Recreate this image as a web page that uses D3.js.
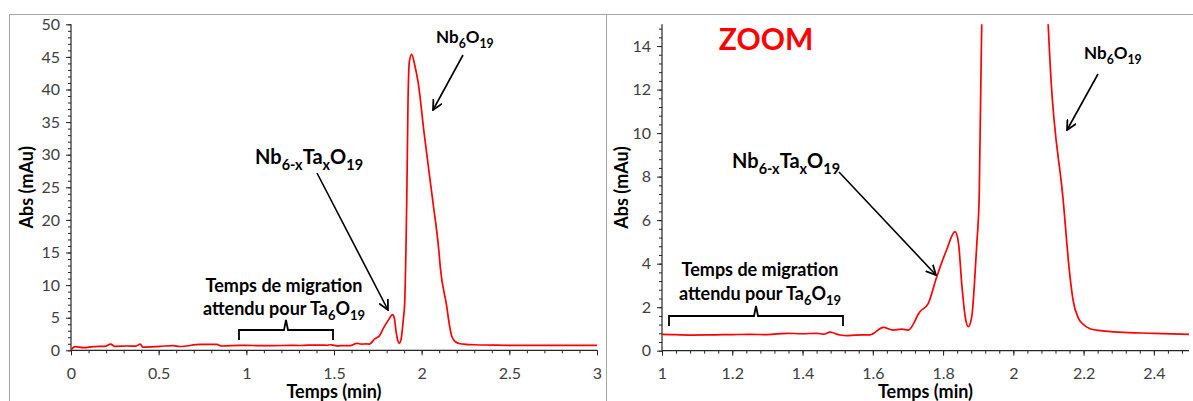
<!DOCTYPE html>
<html>
<head>
<meta charset="utf-8">
<script src="https://cdn.jsdelivr.net/npm/d3@7"></script>
<style>
  html, body { margin: 0; padding: 0; background: #fff; }
  svg { display: block; font-family: Lato, "Open Sans", sans-serif; }
</style>
</head>
<body>
<svg id="chart" width="1193" height="401"></svg>
<script>
// ---- data ----
const time = [0, 0.005, 0.023, 0.07, 0.127, 0.2, 0.226, 0.25, 0.318, 0.37, 0.394, 0.41,
  0.508, 0.584, 0.62, 0.736, 0.831, 0.86, 0.964, 1.0, 1.078, 1.15, 1.2, 1.25, 1.3, 1.355,
  1.4, 1.44, 1.46, 1.478, 1.507, 1.526, 1.55, 1.592, 1.63, 1.658, 1.682, 1.701, 1.734,
  1.758, 1.782, 1.81, 1.834, 1.844, 1.853, 1.863, 1.872, 1.882, 1.889, 1.896, 1.903,
  1.91, 1.915, 1.922, 1.93, 1.943, 1.96, 1.981, 2.014, 2.063, 2.099, 2.106, 2.142, 2.16,
  2.17, 2.185, 2.195, 2.22, 2.25, 2.3, 2.4, 2.5, 2.7, 3.0];
const absorbance = [0.05, 0.2, 0.55, 0.4, 0.55, 0.65, 0.95, 0.6, 0.66, 0.65, 0.95, 0.5,
  0.61, 0.72, 0.58, 0.9, 0.92, 0.66, 0.75, 0.75, 0.72, 0.73, 0.74, 0.75, 0.74, 0.8,
  0.78, 0.8, 0.76, 0.85, 0.72, 0.69, 0.72, 0.73, 1.07, 0.95, 0.99, 0.95, 1.79,
  2.18, 3.40, 4.63, 5.47, 4.93, 3.10, 1.56, 1.10, 1.6, 3.0, 4.9, 7.2,
  15, 23, 38, 44.3, 45.4, 43.8, 40.9, 33.3, 23, 15, 12.8, 6.9, 3.6,
  2.32, 1.5, 1.27, 1.0, 0.92, 0.85, 0.8, 0.75, 0.75, 0.75];

const leftXTicks = [0, 0.5, 1, 1.5, 2, 2.5, 3];
const leftYTicks = [0, 5, 10, 15, 20, 25, 30, 35, 40, 45, 50];
const rightXTicks = [1, 1.2, 1.4, 1.6, 1.8, 2, 2.2, 2.4];
const rightYTicks = [0, 2, 4, 6, 8, 10, 12, 14];

const xTitle = "Temps (min)";
const yTitle = "Abs (mAu)";

const data = time.map((t, i) => ({ t, a: absorbance[i] }));

const svg = d3.select("#chart");
const defs = svg.append("defs");
defs.append("marker")
  .attr("id", "arrow").attr("markerUnits", "userSpaceOnUse")
  .attr("viewBox", "0 0 10 10").attr("refX", 9).attr("refY", 5)
  .attr("markerWidth", 11).attr("markerHeight", 11).attr("orient", "auto")
  .append("path").attr("d", "M0,0.5 L9,5 L0,9.5")
  .attr("fill", "none").attr("stroke", "#000").attr("stroke-width", 1.6);

// panel frames
svg.append("path").attr("d", "M9.5,401 L9.5,14.5 L1193,14.5 M606.5,14.5 L606.5,401")
  .attr("fill", "none").attr("stroke", "#a6a6a6").attr("stroke-width", 1);

function richText(g, x, y, anchor, size, parts, color) {
  const t = g.append("text").attr("x", x).attr("y", y)
    .attr("text-anchor", anchor).attr("font-weight", "bold")
    .attr("font-size", size).attr("fill", color || "#000");
  let shifted = false;
  parts.forEach(([s, sub]) => {
    const ts = t.append("tspan").text(s);
    if (sub && !shifted) { ts.attr("dy", size * 0.28).attr("font-size", size * 0.72); shifted = true; }
    else if (sub) { ts.attr("font-size", size * 0.72); }
    else if (!sub && shifted) { ts.attr("dy", -size * 0.28); shifted = false; }
  });
  return t;
}

function panel(cfg) {
  const g = svg.append("g");
  const x = d3.scaleLinear().domain(cfg.xDomain).range([cfg.x0, cfg.x1]);
  const y = d3.scaleLinear().domain(cfg.yDomain).range([cfg.y0, cfg.y1]);

  const clipId = "clip" + cfg.id;
  defs.append("clipPath").attr("id", clipId).append("rect")
    .attr("x", cfg.x0).attr("y", cfg.y1).attr("width", cfg.x1 - cfg.x0 + 1).attr("height", cfg.y0 - cfg.y1);

  // minor ticks
  const xMinor = d3.range(cfg.xDomain[0], cfg.xDomain[1] + 1e-9, cfg.xMinor).map(v => +v.toFixed(4));
  const yMinor = d3.range(cfg.yDomain[0], cfg.yDomain[1] + 1e-9, cfg.yMinor).map(v => +v.toFixed(4));
  g.append("g").attr("transform", `translate(0,${cfg.y0})`)
    .call(d3.axisBottom(x).tickValues(xMinor).tickSize(3).tickFormat("").tickSizeOuter(0))
    .call(a => a.select(".domain").remove())
    .selectAll("line").attr("stroke", "#262626");
  g.append("g").attr("transform", `translate(${cfg.x0},0)`)
    .call(d3.axisLeft(y).tickValues(yMinor).tickSize(3).tickFormat("").tickSizeOuter(0))
    .call(a => a.select(".domain").remove())
    .selectAll("line").attr("stroke", "#262626");

  // major axes
  const xa = g.append("g").attr("transform", `translate(0,${cfg.y0})`)
    .call(d3.axisBottom(x).tickValues(cfg.xTicks).tickSize(5).tickSizeOuter(0).tickPadding(12)
      .tickFormat(d => d3.format("")(d)));
  const ya = g.append("g").attr("transform", `translate(${cfg.x0},0)`)
    .call(d3.axisLeft(y).tickValues(cfg.yTicks).tickSize(5).tickSizeOuter(0).tickPadding(6));
  [xa, ya].forEach(a => {
    a.select(".domain").attr("stroke", "#262626").attr("stroke-width", 1.2);
    a.selectAll(".tick line").attr("stroke", "#262626");
    a.selectAll("text").attr("font-size", 16).attr("fill", "#404040")
      .attr("font-family", "Lato, 'Open Sans', sans-serif");
  });
  ya.select(".domain").attr("d", `M0,${cfg.y0}V${cfg.y1}`);
  xa.select(".domain").attr("d", `M${cfg.x0},0H${cfg.x1}`);

  // titles
  g.append("text").attr("x", (cfg.x0 + cfg.x1) / 2).attr("y", 398)
    .attr("text-anchor", "middle").attr("font-weight", "bold").attr("font-size", 18)
    .text(xTitle);
  g.append("text").attr("transform", `translate(${cfg.yTitleX},${(cfg.y0 + cfg.y1) / 2}) rotate(-90)`)
    .attr("text-anchor", "middle").attr("font-weight", "bold").attr("font-size", 18)
    .attr("dy", "0.35em").text(yTitle);

  // curve
  const line = d3.line().x(d => x(d.t)).y(d => y(d.a)).curve(d3.curveMonotoneX);
  g.append("path").datum(data.filter(d => d.t >= cfg.xDomain[0] - 0.05 && d.t <= cfg.xDomain[1] + 0.05))
    .attr("clip-path", `url(#${clipId})`)
    .attr("d", line).attr("fill", "none").attr("stroke", "#ff0000").attr("stroke-width", 1.7);

  return g;
}

// Left panel
panel({ id: "L", xDomain: [0, 3], yDomain: [0, 50], x0: 71, x1: 597, y0: 350.3, y1: 24.3,
  xTicks: leftXTicks, yTicks: leftYTicks, xMinor: 0.1, yMinor: 1, yTitleX: 27 });
// Right panel
panel({ id: "R", xDomain: [1, 2.5], yDomain: [0, 15], x0: 662, x1: 1189, y0: 350.7, y1: 24.3,
  xTicks: rightXTicks, yTicks: rightYTicks, xMinor: 0.04, yMinor: 0.4, yTitleX: 622 });

// Annotations
const ann = svg.append("g");
function arrow(x1, y1, x2, y2) {
  ann.append("line").attr("x1", x1).attr("y1", y1).attr("x2", x2).attr("y2", y2)
    .attr("stroke", "#000").attr("stroke-width", 1.6).attr("marker-end", "url(#arrow)");
}
function brace(xa, xb, yb, xm, drop, rise) {
  ann.append("path")
    .attr("d", `M${xa},${yb + drop} V${yb} H${xm - 2} L${xm},${yb - rise} L${xm + 2},${yb} H${xb} V${yb + drop}`)
    .attr("fill", "none").attr("stroke", "#000").attr("stroke-width", 1.8);
}

// left panel labels
richText(ann, 436, 43, "start", 17, [["Nb", 0], ["6", 1], ["O", 0], ["19", 1]]);
arrow(463, 55, 433, 110);
richText(ann, 255, 164, "start", 20, [["Nb", 0], ["6-x", 1], ["Ta", 0], ["x", 1], ["O", 0], ["19", 1]]);
arrow(317, 173, 388, 310);
ann.append("text").attr("x", 284).attr("y", 292).attr("text-anchor", "middle")
  .attr("font-weight", "bold").attr("font-size", 18).text("Temps de migration");
richText(ann, 284, 315, "middle", 18, [["attendu pour Ta", 0], ["6", 1], ["O", 0], ["19", 1]]);
brace(239, 333, 330, 286, 10, 10);

// right panel labels
ann.append("text").attr("x", 766).attr("y", 50).attr("text-anchor", "middle")
  .attr("font-weight", "bold").attr("font-size", 30).attr("fill", "#ff0000").text("ZOOM");
richText(ann, 1084, 59, "start", 17, [["Nb", 0], ["6", 1], ["O", 0], ["19", 1]]);
arrow(1098, 74, 1067, 130);
richText(ann, 732, 168, "start", 20, [["Nb", 0], ["6-x", 1], ["Ta", 0], ["x", 1], ["O", 0], ["19", 1]]);
arrow(839, 172, 936, 275);
ann.append("text").attr("x", 760).attr("y", 276).attr("text-anchor", "middle")
  .attr("font-weight", "bold").attr("font-size", 18).text("Temps de migration");
richText(ann, 760, 300, "middle", 18, [["attendu pour Ta", 0], ["6", 1], ["O", 0], ["19", 1]]);
brace(669, 843, 316, 756, 10, 10);
</script>
</body>
</html>
